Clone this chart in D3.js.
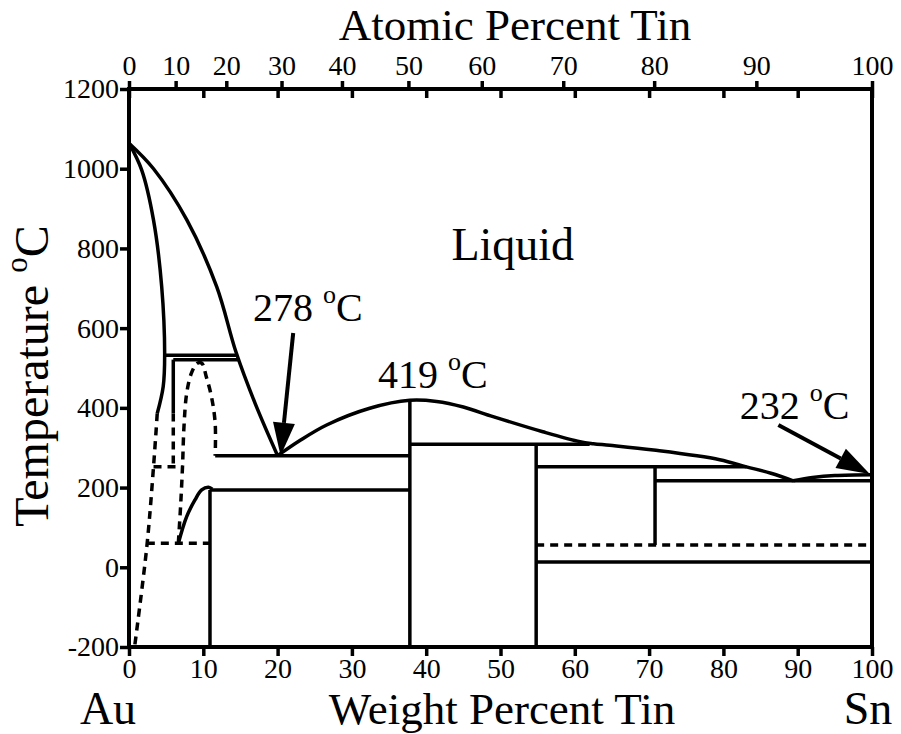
<!DOCTYPE html>
<html>
<head>
<meta charset="utf-8">
<script src="https://cdn.jsdelivr.net/npm/d3@7"></script>
<style>
  html, body { margin: 0; padding: 0; background: #fff; }
  svg, svg text { font-family: "Liberation Serif", "Times New Roman", serif; }
</style>
</head>
<body>
<svg id="chart" width="901" height="734"></svg>
<script>
// ---- Au–Sn phase diagram data (weight % Sn, temperature °C) ----
const weightTicks = [0, 10, 20, 30, 40, 50, 60, 70, 80, 90, 100];
const atomicTicks = [0, 10, 20, 30, 40, 50, 60, 70, 80, 90, 100];
const tempTicks = [-200, 0, 200, 400, 600, 800, 1000, 1200];

// atomic masses used to place the atomic-percent axis
const massAu = 196.97, massSn = 118.71;

// solid boundaries
const liquidusAu   = [[0,1064],[3.3,1000],[7.8,871],[11.8,704],[14.4,540],[17,410],[20,280]];
const alphaSolidus = [[0,1064],[1.7,997],[3.3,871],[4.4,704],[4.8,532],[4.6,453],[3.8,386]];
const liquidusMid  = [[20,280],[23,318],[26.6,357],[32.4,399],[37.8,419],[41.4,416],[45,402],[49,378],
                      [55.7,340],[60.7,315],[62.5,310],[64.7,306],[70.6,294],[79.5,270],[83.1,252],
                      [86.4,236],[89.4,217]];
const liquidusSn   = [[89.4,217],[92,225],[95,230],[100,232]];
const betaCurve    = [[6.64,60],[7.76,127],[8.88,169],[9.78,194],[10.7,201],[11.2,196]];

// dashed (uncertain) boundaries
const alphaSolvus  = [[3.8,386],[3.3,252],[2.4,52],[0.75,-200]];
const zetaSolvus   = [[6.64,60],[6.94,152],[7.2,252],[7.4,353],[7.76,436],[8.4,487],[9.2,512],
                      [9.8,512],[10.4,478],[11.1,428],[11.6,361],[11.6,280]];

// straight segments: [w1, t1, w2, t2]
const solidSegments = [
  [4.8,532,14.4,532],      // peritectic 532
  [5.96,521,14.8,521],     // 521 transition
  [5.96,521,5.96,386],     // zeta boundary
  [11.6,280,37.8,280],     // eutectic 278
  [10.9,194,37.8,194],     // beta 190
  [10.9,194,10.9,-200],    // beta phase
  [37.8,-200,37.8,419],    // AuSn
  [37.8,309,62,309],       // peritectic 309
  [54.8,-200,54.8,309],    // AuSn2
  [54.8,252,83.1,252],     // peritectic 252
  [70.8,56,70.8,252],      // AuSn4
  [70.8,217,100,217],      // eutectic 217
  [54.8,13,100,13]         // Sn allotropic 13
];
const dashedSegments = [
  [5.96,386,5.96,252],
  [3.3,252,7.2,252],
  [2.4,60,10.9,60],
  [54.8,56,100,56]
];

// annotations
const tempLabels = [
  { value: "278", w: 16.7, t: 618 },
  { value: "419", w: 33.5, t: 449 },
  { value: "232", w: 82.2, t: 371 }
];
const arrows = [
  { from: [22.1, 588], to: [20.4, 280] },
  { from: [87.4, 357], to: [99.7, 234] }
];
const phaseLabel = { text: "Liquid", w: 43.4, t: 771 };

// ---- scales ----
const x = d3.scaleLinear().domain([0, 100]).range([129, 872]);
const y = d3.scaleLinear().domain([-200, 1200]).range([647, 89]);
const atToWt = a => 100 * a * massSn / (a * massSn + (100 - a) * massAu);

const FONT = '"Liberation Serif", "Times New Roman", serif';
const svg = d3.select("#chart");
const line = d3.line().x(d => x(d[0])).y(d => y(d[1])).curve(d3.curveCatmullRom.alpha(0.5));

const strokeW = 3.5;
const dash = "8,6";

// curves
const plot = svg.append("g").attr("fill", "none").attr("stroke", "#000").attr("stroke-width", strokeW);
[liquidusAu, alphaSolidus, liquidusMid, liquidusSn, betaCurve].forEach(c =>
  plot.append("path").attr("d", line(c)).attr("stroke-linejoin", "round"));
[alphaSolvus, zetaSolvus].forEach(c =>
  plot.append("path").attr("d", line(c)).attr("stroke-dasharray", dash));

plot.selectAll("line.solid").data(solidSegments).join("line").attr("class", "solid")
  .attr("x1", d => x(d[0])).attr("y1", d => y(d[1]))
  .attr("x2", d => x(d[2])).attr("y2", d => y(d[3]));
plot.selectAll("line.dashed").data(dashedSegments).join("line").attr("class", "dashed")
  .attr("x1", d => x(d[0])).attr("y1", d => y(d[1]))
  .attr("x2", d => x(d[2])).attr("y2", d => y(d[3]))
  .attr("stroke-dasharray", dash);

// arrows
arrows.forEach(a => {
  const x0 = x(a.from[0]), y0 = y(a.from[1]), x1 = x(a.to[0]), y1 = y(a.to[1]);
  const len = Math.hypot(x1 - x0, y1 - y0), ux = (x1 - x0) / len, uy = (y1 - y0) / len;
  const headL = 33, headW = 11;
  const bx = x1 - ux * headL, by = y1 - uy * headL;
  svg.append("line").attr("x1", x0).attr("y1", y0).attr("x2", bx).attr("y2", by)
    .attr("stroke", "#000").attr("stroke-width", 4);
  svg.append("path")
    .attr("d", `M${x1},${y1}L${bx - uy * headW},${by + ux * headW}L${bx + uy * headW},${by - ux * headW}Z`)
    .attr("fill", "#000");
});

// temperature labels with superscript degree
tempLabels.forEach(l => {
  const t = svg.append("text").attr("x", x(l.w)).attr("y", y(l.t)).attr("font-size", 40);
  t.append("tspan").text(l.value + " ");
  t.append("tspan").attr("font-size", 26).attr("dy", -18).text("o");
  t.append("tspan").attr("dy", 18).text("C");
});
svg.append("text").attr("x", x(phaseLabel.w)).attr("y", y(phaseLabel.t))
  .attr("font-size", 46).text(phaseLabel.text);

// ---- axes ----
function styleAxis(g) {
  g.attr("font-family", null).attr("font-size", null);
  g.select(".domain").remove();
  g.selectAll(".tick line").attr("stroke", "#000").attr("stroke-width", 3.5);
  g.selectAll(".tick text").attr("fill", "#000")
    .style("font-family", FONT).style("font-size", "28px");
}
const plain = d => String(d);

svg.append("g").attr("transform", `translate(0,${y(-200)})`)
  .call(d3.axisBottom(x).tickValues(weightTicks).tickSize(9).tickPadding(2).tickSizeOuter(0).tickFormat(plain))
  .call(styleAxis);

const atPositions = atomicTicks.map(atToWt);
svg.append("g").attr("transform", `translate(0,${y(1200)})`)
  .call(d3.axisTop(x).tickValues(atPositions).tickSize(8).tickPadding(6).tickSizeOuter(0)
    .tickFormat(d => String(atomicTicks[atPositions.indexOf(d)])))
  .call(styleAxis);
// inner weight-percent ticks on the top edge
svg.append("g").attr("transform", `translate(0,${y(1200)})`)
  .call(d3.axisBottom(x).tickValues(weightTicks).tickSize(9).tickFormat("").tickSizeOuter(0))
  .call(styleAxis);

svg.append("g").attr("transform", `translate(${x(0)},0)`)
  .call(d3.axisLeft(y).tickValues(tempTicks).tickSize(9).tickPadding(1).tickSizeOuter(0).tickFormat(plain))
  .call(styleAxis);

// frame
svg.append("rect").attr("x", x(0)).attr("y", y(1200))
  .attr("width", x(100) - x(0)).attr("height", y(-200) - y(1200))
  .attr("fill", "none").attr("stroke", "#000").attr("stroke-width", 4);

// ---- titles ----
svg.append("text").attr("x", 515).attr("y", 40).attr("text-anchor", "middle")
  .attr("font-size", 45).text("Atomic Percent Tin");
svg.append("text").attr("x", 502).attr("y", 724).attr("text-anchor", "middle")
  .attr("font-size", 45).text("Weight Percent Tin");
svg.append("text").attr("x", 108).attr("y", 724).attr("text-anchor", "middle")
  .attr("font-size", 46).text("Au");
svg.append("text").attr("x", 868).attr("y", 724).attr("text-anchor", "middle")
  .attr("font-size", 46).text("Sn");

const yl = svg.append("text").attr("transform", "translate(48,376) rotate(-90)")
  .attr("text-anchor", "middle").attr("font-size", 48);
yl.append("tspan").text("Temperature ");
yl.append("tspan").attr("font-size", 31).attr("dy", -21).text("o");
yl.append("tspan").attr("dy", 21).text("C");
</script>
</body>
</html>
